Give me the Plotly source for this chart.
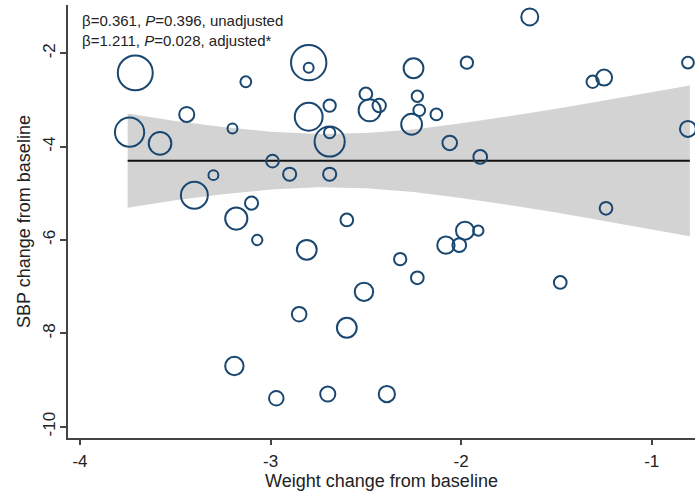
import plotly.graph_objects as go

# Per-participant change from baseline
weight_change = [
    -3.71, -3.44, -3.74, -3.58, -3.30, -3.40, -2.80, -2.80, -3.13, -3.20,
    -2.80, -2.69, -2.69, -2.69, -2.99, -2.90, -2.69, -2.50, -2.48, -2.43,
    -3.10, -3.18, -2.60, -1.64, -1.97, -2.25, -2.23, -2.22, -2.13, -2.26,
    -2.06, -1.90, -1.31, -1.25, -0.81, -0.81, -1.24, -3.07, -2.81, -2.51,
    -2.85, -2.60, -3.19, -2.97, -2.70, -2.39, -1.98, -1.91, -2.08, -2.01,
    -2.32, -2.23, -1.48,
]
sbp_change = [
    -2.42, -3.31, -3.69, -3.93, -4.61, -5.04, -2.20, -2.31, -2.61, -3.61,
    -3.36, -3.12, -3.70, -3.89, -4.31, -4.59, -4.59, -2.87, -3.22, -3.12,
    -5.21, -5.54, -5.57, -1.22, -2.20, -2.32, -2.92, -3.22, -3.31, -3.52,
    -3.92, -4.22, -2.61, -2.52, -2.20, -3.62, -5.32, -6.00, -6.21, -7.11,
    -7.59, -7.88, -8.70, -9.39, -9.30, -9.30, -5.80, -5.80, -6.11, -6.11,
    -6.41, -6.81, -6.91,
]
# Analytic weights (bubble area)
analytic_weight = [
    6.10, 1.14, 4.28, 2.56, 0.49, 3.61, 6.25, 0.49, 0.59, 0.49,
    3.88, 0.76, 0.64, 4.54, 0.81, 0.86, 0.86, 0.81, 2.46, 0.90,
    0.86, 2.46, 0.81, 1.44, 0.76, 1.96, 0.64, 0.69, 0.69, 2.16,
    1.06, 0.94, 0.76, 1.28, 0.69, 1.28, 0.81, 0.53, 1.96, 1.69,
    1.06, 1.96, 1.69, 1.06, 1.14, 1.32, 1.61, 0.53, 1.51, 0.94,
    0.76, 0.81, 0.81,
]

# Fitted line and 95% confidence band
fit_x = [-3.75, -0.80]
fit_y = [-4.30, -4.30]
band_x = [-3.75, -3.50, -3.25, -3.00, -2.75, -2.50, -2.25, -2.00,
          -1.75, -1.50, -1.25, -1.00, -0.80]
band_upper = [-3.29, -3.45, -3.58, -3.68, -3.73, -3.71, -3.63, -3.50,
              -3.35, -3.19, -3.01, -2.83, -2.69]
band_lower = [-5.31, -5.15, -5.02, -4.92, -4.87, -4.89, -4.97, -5.10,
              -5.25, -5.41, -5.59, -5.77, -5.92]

x_ticks = [-4, -3, -2, -1]
y_ticks = [-2, -4, -6, -8, -10]

FONT = "Liberation Sans, Arial, sans-serif"
NAVY = "#1a476f"
AXIS = "#444444"

fig = go.Figure()

fig.add_trace(go.Scatter(
    x=band_x + band_x[::-1],
    y=band_upper + band_lower[::-1],
    fill="toself",
    fillcolor="#d3d3d3",
    line=dict(width=0),
    mode="lines",
    hoverinfo="skip",
    showlegend=False,
))

fig.add_trace(go.Scatter(
    x=fit_x, y=fit_y,
    mode="lines",
    line=dict(color="#111111", width=2),
    showlegend=False,
))

fig.add_trace(go.Scatter(
    x=weight_change, y=sbp_change,
    mode="markers",
    marker=dict(
        size=analytic_weight,
        sizemode="area",
        sizeref=0.01,
        symbol="circle-open",
        color=NAVY,
        opacity=1,
        line=dict(color=NAVY, width=2),
    ),
    showlegend=False,
))

fig.add_annotation(
    xref="paper", yref="paper", x=0.019, y=0.964,
    xanchor="left", yanchor="middle", showarrow=False,
    text="β=0.361, <i>P</i>=0.396, unadjusted",
    font=dict(family=FONT, size=15, color="#222222"),
)
fig.add_annotation(
    xref="paper", yref="paper", x=0.019, y=0.919,
    xanchor="left", yanchor="middle", showarrow=False,
    text="β=1.211, <i>P</i>=0.028, adjusted*",
    font=dict(family=FONT, size=15, color="#222222"),
)

fig.update_layout(
    width=695, height=494,
    margin=dict(l=68, r=0, t=5, b=56),
    paper_bgcolor="white",
    plot_bgcolor="white",
    font=dict(family=FONT, color="#222222"),
    xaxis=dict(
        range=[-4.063, -0.773],
        tickvals=x_ticks,
        ticktext=[str(v) for v in x_ticks],
        ticks="outside", ticklen=5, tickwidth=1.5, tickcolor=AXIS,
        showline=True, linecolor=AXIS, linewidth=1.5,
        showgrid=False, zeroline=False,
        tickfont=dict(size=17, family=FONT, color="#222222"),
        ticklabelstandoff=2,
        title=dict(text="Weight change from baseline",
                   font=dict(size=18, family=FONT, color="#222222"),
                   standoff=4),
    ),
    yaxis=dict(
        range=[-10.242, -0.965],
        tickvals=y_ticks,
        ticktext=[str(v) for v in y_ticks],
        tickangle=-90,
        ticks="outside", ticklen=6, tickwidth=1.5, tickcolor=AXIS,
        showline=True, linecolor=AXIS, linewidth=1.5,
        showgrid=False, zeroline=False,
        tickfont=dict(size=17, family=FONT, color="#222222"),
        ticklabelstandoff=-2,
        title=dict(text="SBP change from baseline",
                   font=dict(size=18, family=FONT, color="#222222"),
                   standoff=5),
    ),
)

fig.write_html("out.html")
